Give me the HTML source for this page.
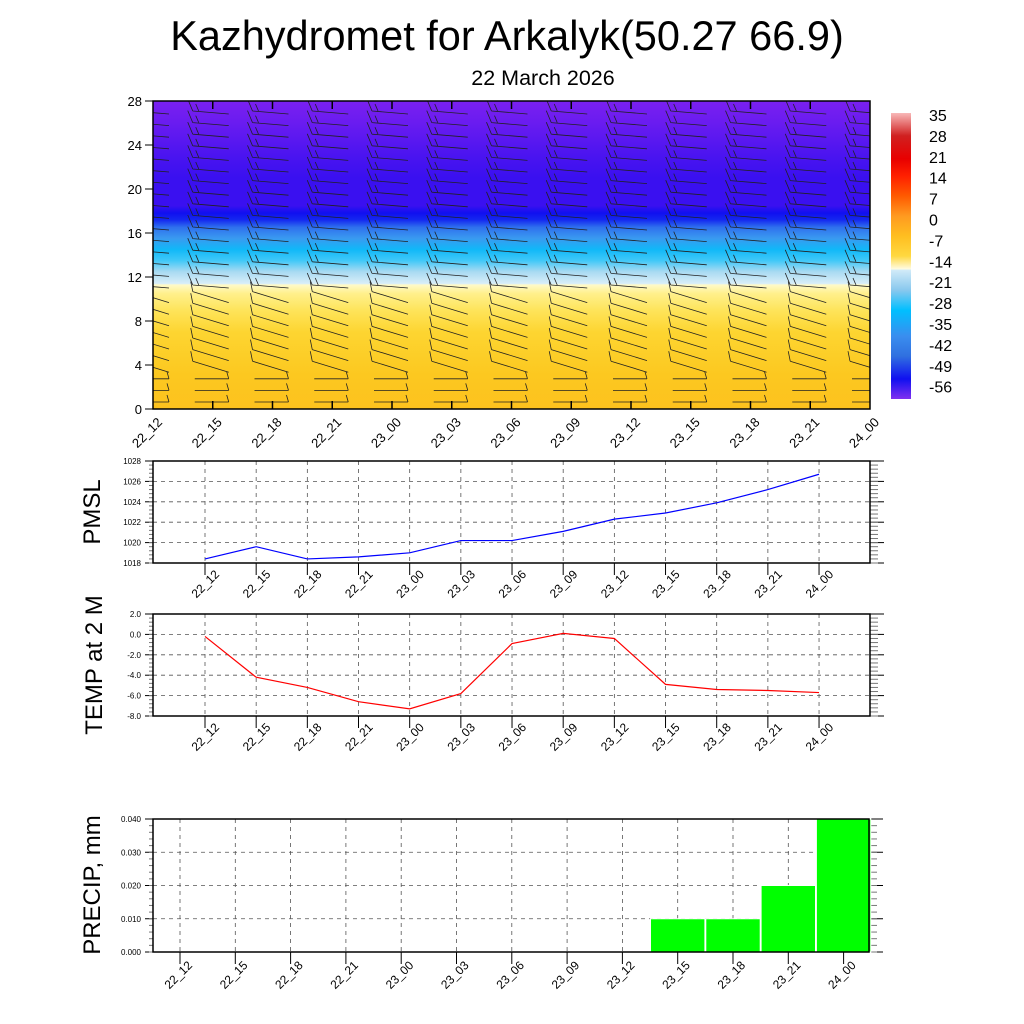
<!DOCTYPE html>
<html><head><meta charset="utf-8"><style>
html,body{margin:0;padding:0;background:#fff;}
svg{display:block;font-family:"Liberation Sans",sans-serif;}
</style></head><body>
<svg id="root" width="1024" height="1024" viewBox="0 0 1024 1024">
<defs>
<linearGradient id="tgrad" x1="0" y1="1" x2="0" y2="0">
<stop offset="0" stop-color="#fdc21e"/><stop offset="0.11" stop-color="#fcc820"/>
<stop offset="0.25" stop-color="#fdd531"/><stop offset="0.32" stop-color="#fee45a"/>
<stop offset="0.375" stop-color="#fff08c"/><stop offset="0.403" stop-color="#fffac8"/>
<stop offset="0.407" stop-color="#d8eef8"/><stop offset="0.446" stop-color="#a8daf2"/>
<stop offset="0.482" stop-color="#40c8f8"/><stop offset="0.518" stop-color="#10b8f8"/>
<stop offset="0.554" stop-color="#3a9af0"/><stop offset="0.59" stop-color="#2f70ee"/>
<stop offset="0.614" stop-color="#1428f0"/><stop offset="0.636" stop-color="#1010f0"/>
<stop offset="0.66" stop-color="#3a10f0"/><stop offset="0.75" stop-color="#3a10f0"/>
<stop offset="0.82" stop-color="#4a14f0"/><stop offset="0.93" stop-color="#6a1cf0"/>
<stop offset="1" stop-color="#7a20f0"/>
</linearGradient>
<linearGradient id="cbgrad" x1="0" y1="0" x2="0" y2="1">
<stop offset="0" stop-color="#f8b8b8"/><stop offset="0.08" stop-color="#d02020"/>
<stop offset="0.16" stop-color="#e80000"/><stop offset="0.22" stop-color="#ff2000"/>
<stop offset="0.29" stop-color="#ff5a00"/><stop offset="0.36" stop-color="#ff9a20"/>
<stop offset="0.43" stop-color="#ffbe20"/><stop offset="0.5" stop-color="#ffd840"/>
<stop offset="0.545" stop-color="#fffbe0"/><stop offset="0.55" stop-color="#d0eaf8"/>
<stop offset="0.62" stop-color="#88c8ee"/><stop offset="0.69" stop-color="#00bfff"/>
<stop offset="0.78" stop-color="#3a8eef"/><stop offset="0.85" stop-color="#3070e0"/>
<stop offset="0.93" stop-color="#1010f0"/><stop offset="1" stop-color="#8030f0"/>
</linearGradient>
</defs>
<text x="507" y="50" font-size="41.5" text-anchor="middle">Kazhydromet for Arkalyk(50.27 66.9)</text>
<text x="543" y="85" font-size="21.5" text-anchor="middle">22 March 2026</text>

<g id="top">
<rect x="153" y="101" width="717" height="308" fill="url(#tgrad)"/>
<g id="barbs" stroke="#222" stroke-width="0.8" fill="none"></g>
<rect x="153" y="101" width="717" height="308" fill="none" stroke="#000" stroke-width="1.5"/>
<g id="topaxes"></g>
</g>
<g id="colorbar">
<rect x="891" y="113" width="20" height="286" fill="url(#cbgrad)"/>
<g id="cblabels" font-size="16"></g>
</g>
<g id="pmsl"></g>
<g id="temp"></g>
<g id="precip"></g>
<text transform="translate(100,512) rotate(-90)" font-size="24" text-anchor="middle">PMSL</text>
<text transform="translate(102,665) rotate(-90)" font-size="24" text-anchor="middle">TEMP at 2 M</text>
<text transform="translate(100,885) rotate(-90)" font-size="24" text-anchor="middle">PRECIP, mm</text>
</svg>
<script>
const times = ["22_12","22_15","22_18","22_21","23_00","23_03","23_06","23_09","23_12","23_15","23_18","23_21","24_00"];
const pmslValues = [1018.4,1019.6,1018.4,1018.6,1019.0,1020.2,1020.2,1021.1,1022.3,1022.9,1023.9,1025.2,1026.7];
const tempValues = [-0.2,-4.2,-5.2,-6.6,-7.3,-5.8,-0.9,0.1,-0.4,-4.9,-5.4,-5.5,-5.7];
const precipValues = [0,0,0,0,0,0,0,0,0,0.01,0.01,0.02,0.04];
const pmslTicks = ["1018","1020","1022","1024","1026","1028"];
const tempTicks = ["-8.0","-6.0","-4.0","-2.0","0.0","2.0"];
const precipTicks = ["0.000","0.010","0.020","0.030","0.040"];
const heightTicks = ["0","4","8","12","16","20","24","28"];
const cbLabels = ["35","28","21","14","7","0","-7","-14","-21","-28","-35","-42","-49","-56"];

const NS="http://www.w3.org/2000/svg";
function mk(p,tag,attrs,txt){const e=document.createElementNS(NS,tag);for(const k in attrs)e.setAttribute(k,attrs[k]);if(txt!==undefined)e.textContent=txt;p.appendChild(e);return e;}

// top panel
const topAx=document.getElementById('topaxes');
const tx=i=>153+i*(717/12);
const hy=v=>409-v*(308/28);
heightTicks.forEach(t=>{const y=hy(+t);
 const l=mk(topAx,'line',{x1:145,y1:y,x2:153,y2:y,stroke:'#000'});
 
 
 const tt=mk(topAx,'text',{x:142,y:y+5,'font-size':13,'text-anchor':'end'},t);
 
 
});
times.forEach((t,i)=>{const x=tx(i);
 if(i>0&&i<12){mk(topAx,'line',{x1:x,y1:101,x2:x,y2:109,stroke:'#000','stroke-width':1.5});mk(topAx,'line',{x1:x,y1:401,x2:x,y2:409,stroke:'#000','stroke-width':1.5});}
 const tt=mk(topAx,'text',{transform:`translate(${x+10},423) rotate(-45)`,'font-size':13,'text-anchor':'end'},t);
 
 
});
// wind barbs (decorative)
const bg=document.getElementById('barbs');
const clip=mk(document.querySelector('defs'),'clipPath',{id:'tclip'});mk(clip,'rect',{x:153,y:101,width:717,height:308});
bg.setAttribute('clip-path','url(#tclip)');
for(let i=0;i<13;i++){const cx=tx(i);
 for(let k=0;k<26;k++){const y=112+k*11.6;
  let d;
  if(y<290){d=`M${cx-20},${y-1} L${cx+16},${y+2} M${cx-20},${y-1} L${cx-25},${y-13} M${cx-14},${y-1} L${cx-17},${y-8}`;}
  else if(y<370){d=`M${cx-20},${y-6} L${cx+16},${y+5} M${cx-20},${y-6} L${cx-22},${y-16}`;}
  else {d=`M${cx-18},${y} L${cx+16},${y} M${cx+16},${y} L${cx+14},${y-7}`;}
  const p=mk(bg,'path',{d:d});
  
  
 }}
// colorbar labels
const cbl=document.getElementById('cblabels');
cbLabels.forEach((t,i)=>{const tt=mk(cbl,'text',{x:929,y:121+i*20.9},t);
 
 });

function linePanel(gid,name,top,bot,ticks,vals,color,step0,minor){
 const g=document.getElementById(gid);
 
 
 const L=153,R=870;const lo=+ticks[0],hi=+ticks[ticks.length-1];
 const y=v=>bot-(v-lo)/(hi-lo)*(bot-top);
 const x=i=>205+i*51.17;
 ticks.forEach(t=>{const yy=y(+t);
  if(+t!==lo&&+t!==hi)mk(g,'line',{x1:L,y1:yy,x2:R,y2:yy,stroke:'#555','stroke-dasharray':'4,4','stroke-width':0.8});
  mk(g,'line',{x1:L-8,y1:yy,x2:L,y2:yy,stroke:'#000'});
  mk(g,'line',{x1:R,y1:yy,x2:R+14,y2:yy,stroke:'#000'});
  const tt=mk(g,'text',{x:L-12,y:yy+3,'font-size':8,'text-anchor':'end'},t);
  
  });
 for(let j=0;j<(ticks.length-1)*minor;j++){const yy=bot-(j/((ticks.length-1)*minor))*(bot-top);
  mk(g,'line',{x1:L-4,y1:yy,x2:L,y2:yy,stroke:'#777'});mk(g,'line',{x1:R,y1:yy,x2:R+8,y2:yy,stroke:'#777'});}
 times.forEach((t,i)=>{const xx=x(i);
  mk(g,'line',{x1:xx,y1:top,x2:xx,y2:bot,stroke:'#555','stroke-dasharray':'4,4','stroke-width':0.8});
  mk(g,'line',{x1:xx,y1:bot,x2:xx,y2:bot+12,stroke:'#000'});
  const tt=mk(g,'text',{transform:`translate(${xx+15},${bot+12}) rotate(-45)`,'font-size':12,'text-anchor':'end'},t);
  
  });
 const fr=mk(g,'rect',{x:L,y:top,width:R-L,height:bot-top,fill:'none',stroke:'#000','stroke-width':1.5});
 
 
 const pl=mk(g,'polyline',{points:vals.map((v,i)=>x(i)+','+y(v)).join(' '),fill:'none',stroke:color,'stroke-width':1.2});
 
 
}
linePanel('pmsl','pmsl-panel',461,563,pmslTicks,pmslValues,'#0000ff',0,5);
linePanel('temp','temp-panel',614,716,tempTicks,tempValues,'#ff0000',0,5);

// precip bars
(function(){
 const g=document.getElementById('precip');
 
 
 const L=153,R=869,top=819,bot=952;const lo=0,hi=0.04;
 const y=v=>bot-(v-lo)/(hi-lo)*(bot-top);
 const x=i=>180+i*55.3;
 precipTicks.forEach(t=>{const yy=y(+t);
  if(+t!==lo&&+t!==hi)mk(g,'line',{x1:L,y1:yy,x2:R,y2:yy,stroke:'#555','stroke-dasharray':'4,4','stroke-width':0.8});
  mk(g,'line',{x1:L-8,y1:yy,x2:L,y2:yy,stroke:'#000'});
  mk(g,'line',{x1:R,y1:yy,x2:R+14,y2:yy,stroke:'#000'});
  const tt=mk(g,'text',{x:L-12,y:yy+3,'font-size':8,'text-anchor':'end'},t);
  
  });
 for(let j=0;j<20;j++){const yy=bot-(j/20)*(bot-top);
  mk(g,'line',{x1:L-4,y1:yy,x2:L,y2:yy,stroke:'#777'});mk(g,'line',{x1:R,y1:yy,x2:R+8,y2:yy,stroke:'#777'});}
 times.forEach((t,i)=>{const xx=x(i);
  mk(g,'line',{x1:xx,y1:top,x2:xx,y2:bot,stroke:'#555','stroke-dasharray':'4,4','stroke-width':0.8});
  mk(g,'line',{x1:xx,y1:bot,x2:xx,y2:bot+12,stroke:'#000'});
  const tt=mk(g,'text',{transform:`translate(${xx+13},${bot+14}) rotate(-45)`,'font-size':12,'text-anchor':'end'},t);
  
  });
 precipValues.forEach((v,i)=>{if(v<=0)return;
  const b=mk(g,'rect',{x:x(i)-27.2,y:y(v),width:54.4,height:bot-y(v),fill:'#00ff00',stroke:'#fff','stroke-width':1});
  
  });
 const fr=mk(g,'rect',{x:L,y:top,width:R-L,height:bot-top,fill:'none',stroke:'#000','stroke-width':1.5});
 
 
})();
</script>
</body></html>
